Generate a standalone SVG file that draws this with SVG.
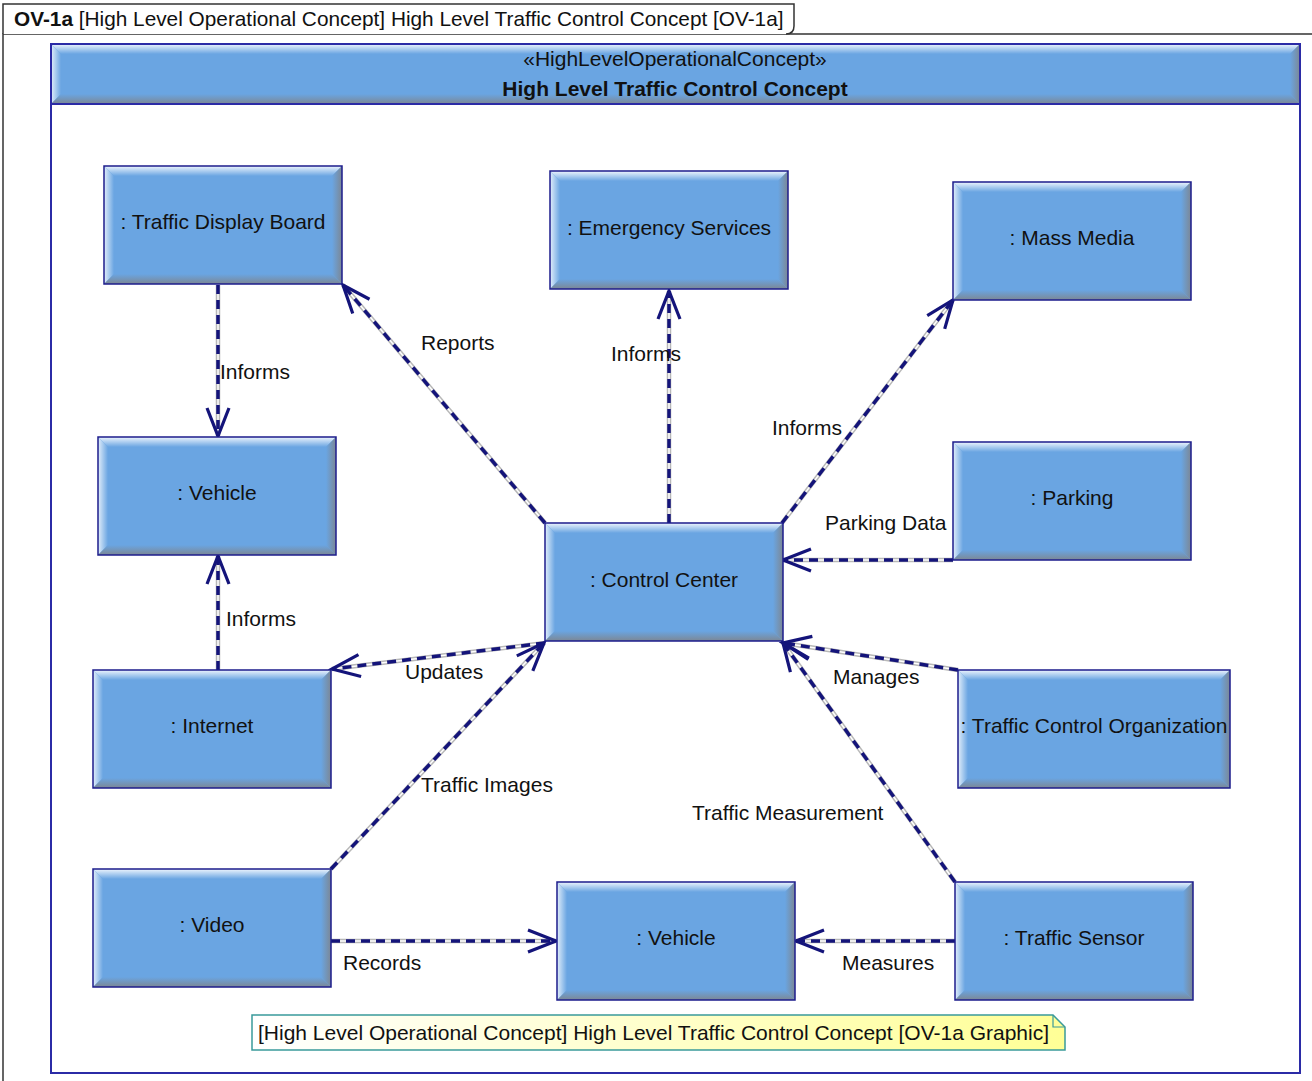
<svg xmlns="http://www.w3.org/2000/svg" xmlns:xlink="http://www.w3.org/1999/xlink" width="1312" height="1081" viewBox="0 0 1312 1081">
<style>
text{font-family:"Liberation Sans",Arial,sans-serif;font-size:21px;fill:#111}
.t{font-size:20.8px}
.c{text-anchor:middle}
.b{font-weight:bold}
.base{fill:none;stroke:#b8b8b8;stroke-width:4.5}
.inner{fill:none;stroke:#ffffff;stroke-width:1.5}
.dash{fill:none;stroke:#14147a;stroke-width:3.5;stroke-dasharray:9 6}
.edge{fill:none;stroke:#1c1c8c;stroke-width:1.5}
</style>
<defs>
<linearGradient id="gTop" x1="0" y1="0" x2="0" y2="1"><stop offset="0" stop-color="#eef5fd"/><stop offset="1" stop-color="#6aa5e2"/></linearGradient>
<linearGradient id="gLeft" x1="0" y1="0" x2="1" y2="0"><stop offset="0" stop-color="#e2eefa"/><stop offset="1" stop-color="#6aa5e2"/></linearGradient>
<linearGradient id="gBot" x1="0" y1="0" x2="0" y2="1"><stop offset="0" stop-color="#6aa5e2"/><stop offset="1" stop-color="#7c8794"/></linearGradient>
<linearGradient id="gRight" x1="0" y1="0" x2="1" y2="0"><stop offset="0" stop-color="#6aa5e2"/><stop offset="1" stop-color="#7c8794"/></linearGradient>
<linearGradient id="gNote" x1="0" y1="0" x2="1" y2="0"><stop offset="0" stop-color="#ffffff"/><stop offset="1" stop-color="#ffff96"/></linearGradient>
<marker id="arr" markerUnits="userSpaceOnUse" orient="auto" markerWidth="40" markerHeight="30" refX="0" refY="0" viewBox="-32 -15 40 30" overflow="visible">
<path d="M-28,-11 L0,0 L-28,11" fill="none" stroke="#14147a" stroke-width="3.2"/>
</marker>
<g id="box">
<rect x="0" y="0" width="238" height="118" fill="#6aa5e2"/>
<polygon points="0,0 238,0 228,10 10,10" fill="url(#gTop)"/>
<polygon points="0,0 10,10 10,108 0,118" fill="url(#gLeft)"/>
<polygon points="0,118 10,108 228,108 238,118" fill="url(#gBot)"/>
<polygon points="238,0 238,118 228,108 228,10" fill="url(#gRight)"/>
<rect x="0" y="0" width="238" height="118" class="edge"/>
</g>
<g id="boxW">
<rect x="0" y="0" width="272" height="118" fill="#6aa5e2"/>
<polygon points="0,0 272,0 262,10 10,10" fill="url(#gTop)"/>
<polygon points="0,0 10,10 10,108 0,118" fill="url(#gLeft)"/>
<polygon points="0,118 10,108 262,108 272,118" fill="url(#gBot)"/>
<polygon points="272,0 272,118 262,108 262,10" fill="url(#gRight)"/>
<rect x="0" y="0" width="272" height="118" class="edge"/>
</g>
</defs>
<rect width="1312" height="1081" fill="#ffffff"/>

<g id="frame">
<path d="M3,1081 V34 H1312" fill="none" stroke="#333" stroke-width="1.5"/>
<path d="M3,34 V4 H794 V26 Q794,34 786,34" fill="#fff" stroke="#333" stroke-width="1.5"/>
<text class="t" x="14" y="26"><tspan class="b">OV-1a</tspan> [High Level Operational Concept] High Level Traffic Control Concept [OV-1a]</text>
</g>

<g id="container">
<rect x="51" y="44" width="1249" height="1029" fill="#fff" stroke="#2b2ba6" stroke-width="2"/>
<rect x="51" y="44" width="1249" height="60" fill="#6aa5e2"/>
<polygon points="51,44 1300,44 1290,54 61,54" fill="url(#gTop)"/>
<polygon points="51,44 61,54 61,94 51,104" fill="url(#gLeft)"/>
<polygon points="51,104 61,94 1290,94 1300,104" fill="url(#gBot)"/>
<polygon points="1300,44 1300,104 1290,94 1290,54" fill="url(#gRight)"/>
<rect x="51" y="44" width="1249" height="60" fill="none" stroke="#2b2ba6" stroke-width="2"/>
<text class="c" x="675" y="66">«HighLevelOperationalConcept»</text>
<text class="c b" x="675" y="96">High Level Traffic Control Concept</text>
</g>

<g id="connectors">
<defs>
<path id="p1" d="M218,285 L218,436"/>
<path id="p2" d="M545,523 L343,285"/>
<path id="p3" d="M669,523 L669,291"/>
<path id="p4" d="M782,523 L953,300"/>
<path id="p5" d="M953,560 L783,560"/>
<path id="p6" d="M218,670 L218,556"/>
<path id="p7" d="M545,643 L332,669"/>
<path id="p8" d="M331,869 L544,643"/>
<path id="p9" d="M958,670 L783,643"/>
<path id="p10" d="M955,882 L783,643"/>
<path id="p11" d="M331,941 L556,941"/>
<path id="p12" d="M955,941 L796,941"/>
</defs>
<g class="base"><use xlink:href="#p1"/><use xlink:href="#p2"/><use xlink:href="#p3"/><use xlink:href="#p4"/><use xlink:href="#p5"/><use xlink:href="#p6"/><use xlink:href="#p7"/><use xlink:href="#p8"/><use xlink:href="#p9"/><use xlink:href="#p10"/><use xlink:href="#p11"/><use xlink:href="#p12"/></g>
<g class="inner"><use xlink:href="#p1"/><use xlink:href="#p2"/><use xlink:href="#p3"/><use xlink:href="#p4"/><use xlink:href="#p5"/><use xlink:href="#p6"/><use xlink:href="#p7"/><use xlink:href="#p8"/><use xlink:href="#p9"/><use xlink:href="#p10"/><use xlink:href="#p11"/><use xlink:href="#p12"/></g>
<g class="dash">
<path d="M218,285 L218,436" marker-end="url(#arr)"/>
<path d="M545,523 L343,285" marker-end="url(#arr)"/>
<path d="M669,523 L669,291" marker-end="url(#arr)"/>
<path d="M782,523 L953,300" marker-end="url(#arr)"/>
<path d="M953,560 L783,560" marker-end="url(#arr)"/>
<path d="M218,670 L218,556" marker-end="url(#arr)"/>
<path d="M545,643 L332,669" marker-end="url(#arr)"/>
<path d="M331,869 L544,643" marker-end="url(#arr)"/>
<path d="M958,670 L783,643" marker-end="url(#arr)"/>
<path d="M955,882 L783,643" marker-end="url(#arr)"/>
<path d="M331,941 L556,941" marker-end="url(#arr)"/>
<path d="M955,941 L796,941" marker-end="url(#arr)"/>
</g>
<g id="labels">
<text x="220" y="379">Informs</text>
<text x="421" y="350">Reports</text>
<text x="611" y="361">Informs</text>
<text x="772" y="435">Informs</text>
<text x="825" y="530">Parking Data</text>
<text x="226" y="626">Informs</text>
<text x="405" y="679">Updates</text>
<text x="421" y="792">Traffic Images</text>
<text x="833" y="684">Manages</text>
<text x="692" y="820">Traffic Measurement</text>
<text x="343" y="970">Records</text>
<text x="842" y="970">Measures</text>
</g>
</g>

<g id="n-tdb" transform="translate(104,166)"><use xlink:href="#box"/><text class="c" x="119" y="63">: Traffic Display Board</text></g>
<g id="n-es" transform="translate(550,171)"><use xlink:href="#box"/><text class="c" x="119" y="64">: Emergency Services</text></g>
<g id="n-mm" transform="translate(953,182)"><use xlink:href="#box"/><text class="c" x="119" y="63">: Mass Media</text></g>
<g id="n-v1" transform="translate(98,437)"><use xlink:href="#box"/><text class="c" x="119" y="63">: Vehicle</text></g>
<g id="n-parking" transform="translate(953,442)"><use xlink:href="#box"/><text class="c" x="119" y="63">: Parking</text></g>
<g id="n-cc" transform="translate(545,523)"><use xlink:href="#box"/><text class="c" x="119" y="64">: Control Center</text></g>
<g id="n-internet" transform="translate(93,670)"><use xlink:href="#box"/><text class="c" x="119" y="63">: Internet</text></g>
<g id="n-tco" transform="translate(958,670)"><use xlink:href="#boxW"/><text class="c" x="136" y="63">: Traffic Control Organization</text></g>
<g id="n-video" transform="translate(93,869)"><use xlink:href="#box"/><text class="c" x="119" y="63">: Video</text></g>
<g id="n-v2" transform="translate(557,882)"><use xlink:href="#box"/><text class="c" x="119" y="63">: Vehicle</text></g>
<g id="n-ts" transform="translate(955,882)"><use xlink:href="#box"/><text class="c" x="119" y="63">: Traffic Sensor</text></g>

<g id="note">
<path d="M252,1015 H1053 L1065,1027 V1050 H252 Z" fill="url(#gNote)" stroke="#3a9a9a" stroke-width="1.5"/>
<path d="M1053,1015 V1027 H1065" fill="none" stroke="#3a9a9a" stroke-width="1.2"/>
<text x="258" y="1040">[High Level Operational Concept] High Level Traffic Control Concept [OV-1a Graphic]</text>
</g>
</svg>
